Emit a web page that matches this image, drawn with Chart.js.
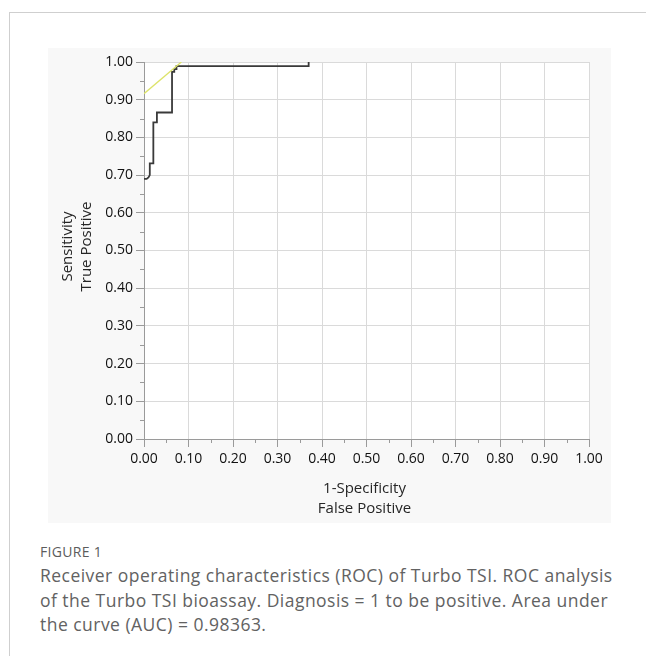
<!DOCTYPE html>
<html>
<head>
<meta charset="utf-8">
<script src="https://cdn.jsdelivr.net/npm/chart.js@4.4.1/dist/chart.umd.min.js"></script>
<style>
  html, body { margin:0; padding:0; background:#fff; width:646px; height:656px; overflow:hidden; }
  #card { position:absolute; left:9px; top:12px; width:660px; height:660px; border-left:1px solid #cfcfcf; border-top:1px solid #cfcfcf; }
  #panel { position:absolute; left:48px; top:48px; width:563px; height:475px; background:#f8f8f8; }
  #panel canvas { position:absolute; left:0; top:0; }
  #fig { position:absolute; left:40px; top:542px; font-family:"Open Sans", sans-serif; font-size:14px; color:#5c5c5c; letter-spacing:0.3px; }
  #cap { position:absolute; left:40px; top:563px; width:620px; font-family:"Open Sans", sans-serif; font-size:17.5px; line-height:24.5px; color:#626262; letter-spacing:0.47px; white-space:nowrap; }
</style>
</head>
<body>
<div id="card"></div>
<div id="panel"><canvas id="c" width="563" height="475"></canvas></div>
<div id="fig">FIGURE 1</div>
<div id="cap">Receiver operating characteristics (ROC) of Turbo TSI. ROC analysis<br>of the Turbo TSI bioassay. Diagnosis = 1 to be positive. Area under<br>the curve (AUC) = 0.98363.</div>
<script>
// ROC curve (1-Specificity, Sensitivity)
const rocX = [0.000, 0.006, 0.010, 0.013, 0.013, 0.021, 0.021, 0.029, 0.029, 0.063, 0.063, 0.068, 0.068, 0.073, 0.073, 0.370, 0.370];
const rocY = [0.690, 0.690, 0.694, 0.700, 0.731, 0.731, 0.840, 0.840, 0.866, 0.866, 0.974, 0.974, 0.981, 0.981, 0.989, 0.989, 1.000];
// tangent (yellow) line
const tanX = [0.000, 0.084];
const tanY = [0.916, 1.000];
// tick labels
const xTickLabels = ['0.00','0.10','0.20','0.30','0.40','0.50','0.60','0.70','0.80','0.90','1.00'];
const yTickLabels = ['0.00','0.10','0.20','0.30','0.40','0.50','0.60','0.70','0.80','0.90','1.00'];
const yTitle = ['Sensitivity', 'True Positive'];
const xTitle = ['1-Specificity', 'False Positive'];

const toPts = (xs, ys) => xs.map((x, i) => ({ x: x, y: ys[i] }));

const tickFont = { family: 'Open Sans', size: 14 };

const bgPlugin = {
  id: 'bg',
  beforeDraw(chart) {
    const { ctx, chartArea: a } = chart;
    ctx.save();
    ctx.fillStyle = '#ffffff';
    ctx.fillRect(a.left, a.top, a.right - a.left, a.bottom - a.top);
    ctx.restore();
  }
};

const decoPlugin = {
  id: 'deco',
  afterDraw(chart) {
    const { ctx, chartArea: a, scales } = chart;
    ctx.save();
    // minor ticks
    ctx.strokeStyle = '#9a9a9a';
    ctx.lineWidth = 1;
    for (let i = 0; i < 10; i++) {
      const v = i * 0.1 + 0.05;
      const px = Math.round(scales.x.getPixelForValue(v)) + 0.5;
      ctx.beginPath(); ctx.moveTo(px, a.bottom); ctx.lineTo(px, a.bottom + 4); ctx.stroke();
      const py = Math.round(scales.y.getPixelForValue(v)) + 0.5;
      ctx.beginPath(); ctx.moveTo(a.left - 4, py); ctx.lineTo(a.left, py); ctx.stroke();
    }
    // axis titles
    ctx.fillStyle = '#262626';
    ctx.font = '15px "Open Sans"';
    ctx.textAlign = 'center';
    ctx.textBaseline = 'middle';
    const cy = (a.top + a.bottom) / 2 - 4;
    [20, 39].forEach((x, i) => {
      ctx.save();
      ctx.translate(x, cy);
      ctx.rotate(-Math.PI / 2);
      ctx.fillText(yTitle[i], 0, 0);
      ctx.restore();
    });
    const cx = (a.left + a.right) / 2 - 2;
    [441, 461].forEach((y, i) => ctx.fillText(xTitle[i], cx, y));
    ctx.restore();
  }
};

new Chart(document.getElementById('c'), {
  type: 'scatter',
  data: {
    datasets: [
      { data: toPts(tanX, tanY), showLine: true, borderColor: '#dde36b', borderWidth: 1.3, pointRadius: 0, tension: 0 },
      { data: toPts(rocX, rocY), showLine: true, borderColor: '#3a3a3a', borderWidth: 1.8, pointRadius: 0, tension: 0 }
    ]
  },
  options: {
    responsive: false,
    animation: false,
    devicePixelRatio: 1,
    layout: { padding: { left: 0, top: 14, right: 22, bottom: 0 } },
    plugins: { legend: { display: false }, tooltip: { enabled: false } },
    scales: {
      x: {
        type: 'linear', min: 0, max: 1,
        ticks: { stepSize: 0.1, autoSkip: false, maxRotation: 0, padding: 4, color: '#111', font: tickFont,
                 callback: (v, i) => xTickLabels[i] },
        grid: { color: '#dadada', tickColor: '#9a9a9a', tickLength: 8 },
        border: { color: '#9a9a9a' },
        afterFit: s => { s.height = 84; }
      },
      y: {
        type: 'linear', min: 0, max: 1,
        ticks: { stepSize: 0.1, autoSkip: false, padding: 3, color: '#111', font: tickFont,
                 callback: (v, i) => yTickLabels[i] },
        grid: { color: '#dadada', tickColor: '#9a9a9a', tickLength: 8 },
        border: { color: '#9a9a9a' },
        afterFit: s => { s.width = 96; }
      }
    }
  },
  plugins: [bgPlugin, decoPlugin]
});
</script>
</body>
</html>
